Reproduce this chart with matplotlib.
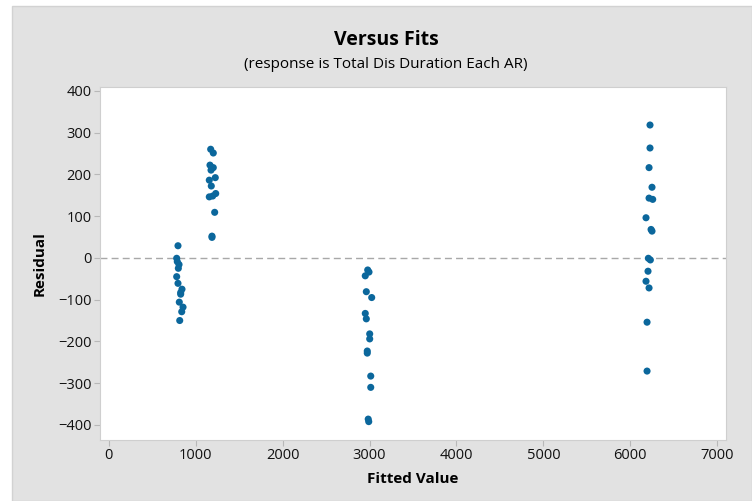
import matplotlib
matplotlib.use("Agg")
import matplotlib.pyplot as plt
from matplotlib.patches import Rectangle

plt.rcParams['font.family'] = ['Open Sans', 'DejaVu Sans']

# Fitted values and residuals, grouped by fitted level
fit_a = [797, 782, 789, 809, 801, 782, 797, 843, 828, 828, 812, 855, 840, 817]
res_a = [29, -1, -9, -16, -25, -45, -61, -75, -83, -87, -106, -118, -129, -150]

fit_b = [1173, 1203, 1165, 1203, 1177, 1226, 1157, 1180, 1231, 1157, 1196, 1219, 1188, 1188]
res_b = [260, 251, 222, 216, 210, 192, 186, 172, 154, 146, 148, 109, 52, 49]

fit_c = [2979, 2951, 2994, 2963, 3025, 2951, 2963, 3002, 3002, 2974, 2974, 3014, 3014, 2991, 2985]
res_c = [-29, -43, -34, -81, -95, -133, -146, -182, -194, -223, -228, -283, -310, -392, -386]

fit_d = [6226, 6226, 6215, 6249, 6215, 6257, 6180, 6238, 6249, 6207, 6230, 6203, 6180, 6215, 6192, 6192]
res_d = [318, 263, 216, 169, 143, 140, 96, 68, 64, -1, -5, -32, -56, -72, -154, -271]

x_ticks = [0, 1000, 2000, 3000, 4000, 5000, 6000, 7000]
y_ticks = [-400, -300, -200, -100, 0, 100, 200, 300, 400]

fitted = fit_a + fit_b + fit_c + fit_d
resid = res_a + res_b + res_c + res_d

fig = plt.figure(figsize=(7.52, 5.01), dpi=100)
fig.patch.set_facecolor('white')
fig.patches.append(Rectangle((12 / 752, 0), 1 - 12 / 752, 1 - 6 / 501,
                             transform=fig.transFigure, facecolor='#e2e2e2',
                             edgecolor='#d2d2d2', linewidth=1.0, zorder=-10))

ax = fig.add_axes([100 / 752, 61 / 501, 626 / 752, 353 / 501])
ax.set_facecolor('white')
ax.axhline(0, color='#a8a8a8', linestyle=(0, (5, 3)), linewidth=1.0, zorder=1)
ax.scatter(fitted, resid, s=26, color='#0b679c', edgecolors='none', zorder=3)

ax.set_xlim(-100, 7100)
ax.set_ylim(-436, 409)
ax.set_xticks(x_ticks)
ax.set_yticks(y_ticks)
ax.tick_params(axis='both', direction='out', length=4, width=0.8,
               color='#b8b8b8', labelsize=10.5, labelcolor='#111111', pad=2)

for s in ax.spines.values():
    s.set_color('#cfcfcf')
    s.set_linewidth(0.8)

ax.set_xlabel('Fitted Value', fontsize=11, fontweight='bold', labelpad=6)
ax.set_ylabel('Residual', fontsize=11, fontweight='bold', labelpad=8)

fig.text(0.5135, 1 - 40 / 501, 'Versus Fits', ha='center', va='center',
         fontsize=14, fontweight='bold')
fig.text(0.5135, 1 - 64 / 501, '(response is Total Dis Duration Each AR)',
         ha='center', va='center', fontsize=11)

fig.savefig('out.png', dpi=100)
